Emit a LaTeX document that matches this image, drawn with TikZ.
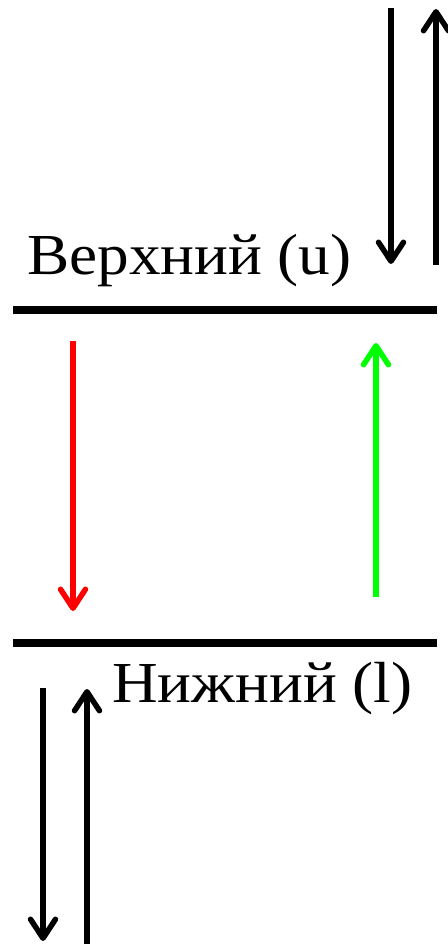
\documentclass[tikz,border=0pt]{standalone}
\usepackage{fontspec}
\setmainfont{Liberation Serif}
\newfontfamily\lblfont[FakeStretch=1.09]{Liberation Serif}
\usetikzlibrary{arrows.meta}
\definecolor{pureRed}{RGB}{255,0,0}
\definecolor{pureGreen}{RGB}{0,255,0}
\begin{document}
\begin{tikzpicture}[x=1pt,y=-1pt,
  level/.style={line width=7.5pt},
  arr/.style={line width=5.5pt, -{Straight Barb[length=19pt,width=25pt,line cap=round,line join=round]}},
  lbl/.style={font=\lblfont\fontsize{58}{60}\selectfont, inner sep=0pt, anchor=base west}]
\useasboundingbox (0,0) rectangle (447,944);
% levels
\coordinate (uL) at (13,310); \coordinate (uR) at (437,310);
\coordinate (lL) at (13,643); \coordinate (lR) at (437,643);
\draw[level] (uL) -- (uR);
\draw[level] (lL) -- (lR);
% labels
\node[lbl] (upper) at (27,274) {Верхний (u)};
\node[lbl] (lower) at (112,702) {Нижний (l)};
% top arrows
\coordinate (tdS) at (391,8);  \coordinate (tdE) at (391,264);
\coordinate (tuS) at (436,265); \coordinate (tuE) at (436,9);
\draw[arr] (tdS) -- (tdE);
\draw[arr] (tuS) -- (tuE);
% transitions
\coordinate (rS) at (73,341); \coordinate (rE) at (73,611);
\coordinate (gS) at (376,597); \coordinate (gE) at (376,343);
\draw[arr,pureRed] (rS) -- (rE);
\draw[arr,pureGreen] (gS) -- (gE);
% bottom arrows
\coordinate (bdS) at (43,688); \coordinate (bdE) at (43,941);
\coordinate (buS) at (87,944); \coordinate (buE) at (87,689);
\draw[arr] (bdS) -- (bdE);
\draw[arr] (buS) -- (buE);
\end{tikzpicture}
\end{document}
